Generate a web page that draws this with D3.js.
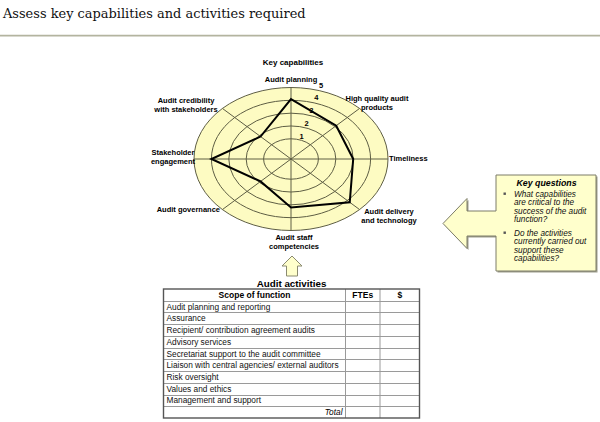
<!DOCTYPE html>
<html>
<head>
<meta charset="utf-8">
<script src="https://cdn.jsdelivr.net/npm/d3@7"></script>
<style>
  body { margin: 0; background: #fff; }
  svg { display: block; font-family: "Liberation Sans", Arial, sans-serif; }
</style>
</head>
<body>
<div id="chart"></div>
<script>
// data
const pageTitle = "Assess key capabilities and activities required"
const radarTitle = "Key capabilities"
const categoryLines = [
  ["Audit planning"],
  ["High quality audit", "products"],
  ["Timeliness"],
  ["Audit delivery", "and technology"],
  ["Audit staff", "competencies"],
  ["Audit governance"],
  ["Stakeholder", "engagement"],
  ["Audit credibility", "with stakeholders"]
]
const scores = [4.1, 3.1, 3.0, 4.2, 3.2, 1.9, 4.0, 1.9]
const ringTicks = [1, 2, 3, 4, 5]

const tableTitle = "Audit activities"
const tableColumns = ["Scope of function", "FTEs", "$"]
const activities = [
  "Audit planning  and reporting",
  "Assurance",
  "Recipient/ contribution agreement audits",
  "Advisory services",
  "Secretariat support to the audit committee",
  "Liaison with central agencies/ external auditors",
  "Risk oversight",
  "Values and ethics",
  "Management and support"
]
const totalLabel = "Total"

const questionsTitle = "Key questions"
const questions = [
  ["What capabilities", "are critical to the", "success of the audit", "function?"],
  ["Do the activities", "currently carried out", "support these", "capabilities?"]
]

// layout
const width = 600, height = 422
const svg = d3.select("#chart").append("svg")
    .attr("width", width)
    .attr("height", height)

// header
const titleText = svg.append("text")
    .attr("x", 3)
    .attr("y", 18)
    .style("font-family", "'DejaVu Serif', 'Liberation Serif', serif")
    .style("font-size", "14px")
    .attr("fill", "#111")
    .text(pageTitle)
const tw = titleText.node().getComputedTextLength()
titleText.style("font-size", `${14 * 303 / tw}px`)

svg.append("line")
    .attr("x1", 0).attr("x2", width)
    .attr("y1", 35.7).attr("y2", 35.7)
    .attr("stroke", "#b3b49f")
    .attr("stroke-width", 1.8)

// radar
const cx = 291, cy = 159
const ryRatio = 0.737
const rScale = d3.scaleLinear().domain([0, 5]).range([10, 97])
const angle = i => i * 2 * Math.PI / categoryLines.length
const px = (i, v) => cx + rScale(v) * Math.sin(angle(i))
const py = (i, v) => cy - rScale(v) * ryRatio * Math.cos(angle(i))

const radar = svg.append("g")

radar.append("text")
    .attr("x", 293).attr("y", 64.5)
    .attr("text-anchor", "middle")
    .style("font-size", "8px").style("font-weight", "bold")
    .text(radarTitle)

radar.append("ellipse")
    .attr("cx", cx).attr("cy", cy)
    .attr("rx", rScale(5)).attr("ry", rScale(5) * ryRatio)
    .attr("fill", "#fdfbc2")

radar.selectAll(".ring")
  .data(ringTicks)
  .join("ellipse")
    .attr("class", "ring")
    .attr("cx", cx).attr("cy", cy)
    .attr("rx", d => rScale(d))
    .attr("ry", d => rScale(d) * ryRatio)
    .attr("fill", "none")
    .attr("stroke", "#5e5e44")
    .attr("stroke-width", 1)

radar.selectAll(".spoke")
  .data(categoryLines)
  .join("line")
    .attr("class", "spoke")
    .attr("x1", cx).attr("y1", cy)
    .attr("x2", (d, i) => px(i, 5))
    .attr("y2", (d, i) => py(i, 5))
    .attr("stroke", "#5e5e44")
    .attr("stroke-width", 1)

radar.selectAll(".tick-label")
  .data(ringTicks)
  .join("text")
    .attr("class", "tick-label")
    .attr("x", d => cx + 3 + rScale(d) * 0.28)
    .attr("y", d => cy - rScale(d) * ryRatio)
    .attr("text-anchor", "middle")
    .style("font-size", "7.5px").style("font-weight", "bold")
    .text(d => d)

const line = d3.line()
    .x((d, i) => px(i, d))
    .y((d, i) => py(i, d))
    .curve(d3.curveLinearClosed)

radar.append("path")
    .datum(scores)
    .attr("d", line)
    .attr("fill", "none")
    .attr("stroke", "#000")
    .attr("stroke-width", 2)
    .attr("stroke-linejoin", "miter")

// label offsets from the outer ring point of each axis
const labelPlace = [
  { anchor: "middle", dx: 0, dy: -5.5 },
  { anchor: "middle", dx: 17.4, dy: -7.4 },
  { anchor: "start", dx: 1, dy: 2 },
  { anchor: "middle", dx: 29.4, dy: 4.8 },
  { anchor: "middle", dx: 3, dy: 10 },
  { anchor: "end", dx: -2.4, dy: 2.4 },
  { anchor: "middle", dx: -21, dy: -3.6 },
  { anchor: "middle", dx: -36.4, dy: -5.7 }
]

radar.selectAll(".cat-label")
  .data(categoryLines)
  .join("text")
    .attr("class", "cat-label")
    .attr("text-anchor", (d, i) => labelPlace[i].anchor)
    .style("font-size", "7.5px").style("font-weight", "bold")
    .each(function (d, i) {
      const x = px(i, 5) + labelPlace[i].dx
      const y = py(i, 5) + labelPlace[i].dy
      d3.select(this).selectAll("tspan")
        .data(d)
        .join("tspan")
          .attr("x", x)
          .attr("y", (t, j) => y + j * 9)
          .text(t => t)
    })

// up arrow
const upArrow = [[292, 256], [302, 266], [297.5, 266], [297.5, 276], [286.5, 276], [286.5, 266], [282, 266]]
svg.append("path")
    .attr("d", d3.line()(upArrow) + "Z")
    .attr("fill", "#ffffcc")
    .attr("stroke", "#8a8a70")
    .attr("stroke-width", 1)

// table
const tableX = d3.scaleOrdinal().domain(tableColumns).range([163.5, 345.5, 380])
const tableRight = 419.5
const rowCount = activities.length + 2
const rowY = d3.scaleLinear().domain([0, rowCount]).range([289, 418])
const rowH = rowY(1) - rowY(0)

svg.append("text")
    .attr("x", 291.5).attr("y", 286.5)
    .attr("text-anchor", "middle")
    .style("font-size", "9.8px").style("font-weight", "bold")
    .text(tableTitle)

const table = svg.append("g")

table.selectAll(".hline")
  .data(d3.range(1, rowCount))
  .join("line")
    .attr("class", "hline")
    .attr("x1", tableX(tableColumns[0])).attr("x2", tableRight)
    .attr("y1", d => Math.round(rowY(d)) + 0.5)
    .attr("y2", d => Math.round(rowY(d)) + 0.5)
    .attr("stroke", "#9a9a9a")
    .attr("stroke-width", 1)

table.selectAll(".vline")
  .data(tableColumns.slice(1))
  .join("line")
    .attr("class", "vline")
    .attr("x1", d => tableX(d)).attr("x2", d => tableX(d))
    .attr("y1", rowY(0)).attr("y2", rowY(rowCount))
    .attr("stroke", "#9a9a9a")
    .attr("stroke-width", 1)

table.append("rect")
    .attr("x", tableX(tableColumns[0]))
    .attr("y", rowY(0))
    .attr("width", tableRight - tableX(tableColumns[0]))
    .attr("height", rowY(rowCount) - rowY(0))
    .attr("fill", "none")
    .attr("stroke", "#555")
    .attr("stroke-width", 1.4)

const colEnds = [tableX(tableColumns[1]), tableX(tableColumns[2]), tableRight]
table.selectAll(".col-head")
  .data(tableColumns)
  .join("text")
    .attr("class", "col-head")
    .attr("x", (d, i) => (tableX(d) + colEnds[i]) / 2)
    .attr("y", rowY(0) + rowH / 2 + 3)
    .attr("text-anchor", "middle")
    .style("font-size", "8.5px").style("font-weight", "bold")
    .text(d => d)

table.selectAll(".activity")
  .data(activities)
  .join("text")
    .attr("class", "activity")
    .attr("x", tableX(tableColumns[0]) + 3)
    .attr("y", (d, i) => rowY(i + 1) + rowH / 2 + 3)
    .style("font-size", "8.3px")
    .attr("fill", "#111")
    .text(d => d)

table.append("text")
    .attr("x", tableX(tableColumns[1]) - 3)
    .attr("y", rowY(rowCount - 1) + rowH / 2 + 3)
    .attr("text-anchor", "end")
    .style("font-size", "8.3px").style("font-style", "italic")
    .text(totalLabel)

// key questions callout
const callout = [[443, 223.5], [467, 198.5], [467, 211], [496, 211], [496, 175], [596, 175],
  [596, 271], [496, 271], [496, 236], [467, 236], [467, 248.5]]
svg.append("path")
    .attr("d", d3.line()(callout.map(p => [p[0] + 1.5, p[1] + 1.5])) + "Z")
    .attr("fill", "#9d9d8c")
svg.append("path")
    .attr("d", d3.line()(callout) + "Z")
    .attr("fill", "#ffffcc")
    .attr("stroke", "#7c7c68")
    .attr("stroke-width", 1)

const kq = svg.append("g")
kq.append("text")
    .attr("x", 546.5).attr("y", 186)
    .attr("text-anchor", "middle")
    .style("font-size", "8.8px").style("font-weight", "bold").style("font-style", "italic")
    .text(questionsTitle)

const lineTop = [197, 236]
questions.forEach((q, k) => {
  kq.append("rect")
      .attr("x", 503.5).attr("y", lineTop[k] - 4.5)
      .attr("width", 2.4).attr("height", 2.4)
      .attr("fill", "#555")
  kq.selectAll(`.q${k}`)
    .data(q)
    .join("text")
      .attr("class", `q${k}`)
      .attr("x", 514)
      .attr("y", (d, j) => lineTop[k] + j * 8.4)
      .style("font-size", "8.2px").style("font-style", "italic")
      .attr("fill", "#111")
      .text(d => d)
})
</script>
</body>
</html>
